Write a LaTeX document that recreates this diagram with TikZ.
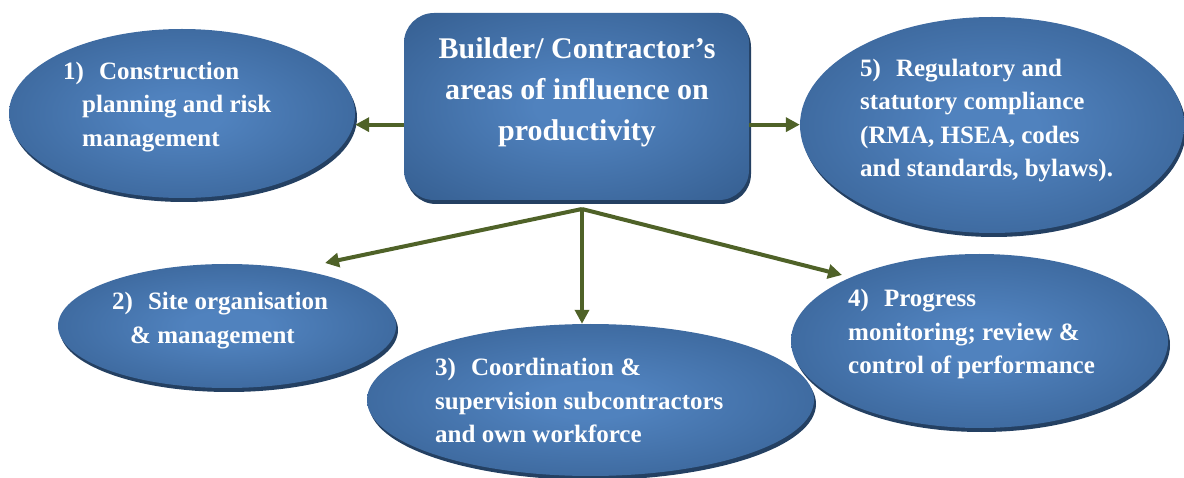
\documentclass[tikz,border=0pt]{standalone}
\usepackage{fontspec}
\setmainfont{Liberation Serif}
\usetikzlibrary{shapes.geometric, arrows.meta, shadows}
\definecolor{blight}{RGB}{80,130,190}
\definecolor{bdark}{RGB}{53,94,144}
\definecolor{bshadow}{RGB}{36,64,98}
\definecolor{arrowgreen}{RGB}{79,98,40}
\pgfdeclareradialshading{bluerad}{\pgfpoint{0bp}{0bp}}{color(0bp)=(blight); color(6bp)=(blight); color(36bp)=(bdark); color(50bp)=(bdark)}
\tikzset{
  blob/.style={ellipse, shading=bluerad, inner sep=0pt,
    general shadow={shadow xshift=2pt, shadow yshift=-4pt, fill=bshadow}},
  hub/.style={rectangle, rounded corners=30pt, shading=bluerad, inner sep=0pt,
    minimum width=345pt, minimum height=187pt,
    general shadow={shadow xshift=2pt, shadow yshift=-4pt, fill=bshadow}},
  lbl/.style={text=white, font=\bfseries\fontsize{25}{33.5}\selectfont,
    align=left, anchor=west, inner sep=0pt},
  hubtxt/.style={text=white, font=\bfseries\fontsize{30}{41}\selectfont,
    align=center, inner sep=0pt},
  arr/.style={draw=arrowgreen, line width=4pt, -{Triangle[length=14pt,width=14pt]}},
}
\begin{document}
\begin{tikzpicture}[x=1pt, y=-1pt]
\useasboundingbox (0,0) rectangle (1184,478);
% shapes
\node[blob, minimum width=346pt, minimum height=169pt] (e1) at (182,113.5) {};
\node[hub] (hub) at (576.5,106.5) {};
\node[blob, minimum width=384pt, minimum height=216pt] (e5) at (992,125) {};
\node[blob, minimum width=338pt, minimum height=124pt] (e2) at (227,326) {};
\node[blob, minimum width=447pt, minimum height=152pt] (e3) at (590.5,400) {};
\node[blob, minimum width=377pt, minimum height=174pt] (e4) at (979.5,341) {};
% texts
\node[hubtxt] (ht) at (577,92) {Builder/ Contractor’s\\areas of influence on\\productivity};
\node[lbl] (t1) at (63,107) {1)\hspace{15pt}Construction\\\hspace*{19pt}planning and risk\\\hspace*{19pt}management};
\node[lbl] (t2) at (112,320.5) {2)\hspace{15pt}Site organisation\\\hspace*{18pt}\& management};
\node[lbl] (t3) at (435,400.5) {3)\hspace{15pt}Coordination \&\\supervision subcontractors\\and own workforce};
\node[lbl] (t4) at (848,334) {4)\hspace{15pt}Progress\\monitoring; review \&\\control of performance};
\node[lbl] (t5) at (860,120.5) {5)\hspace{15pt}Regulatory and\\statutory compliance\\(RMA, HSEA, codes\\and standards, bylaws).};
% connectors
\coordinate (j) at (582,209);
\coordinate (tip2) at (325,263);
\coordinate (tip4) at (842,275);
\draw[arr] (hub.186.8) -- (hub.186.8 -| e1.east);
\draw[arr] (hub.-6.8) -- (hub.-6.8 -| e5.west);
\draw[arr] (j) -- (tip2);
\draw[arr] (j) -- (j |- e3.north);
\draw[arr] (j) -- (tip4);
\end{tikzpicture}
\end{document}
